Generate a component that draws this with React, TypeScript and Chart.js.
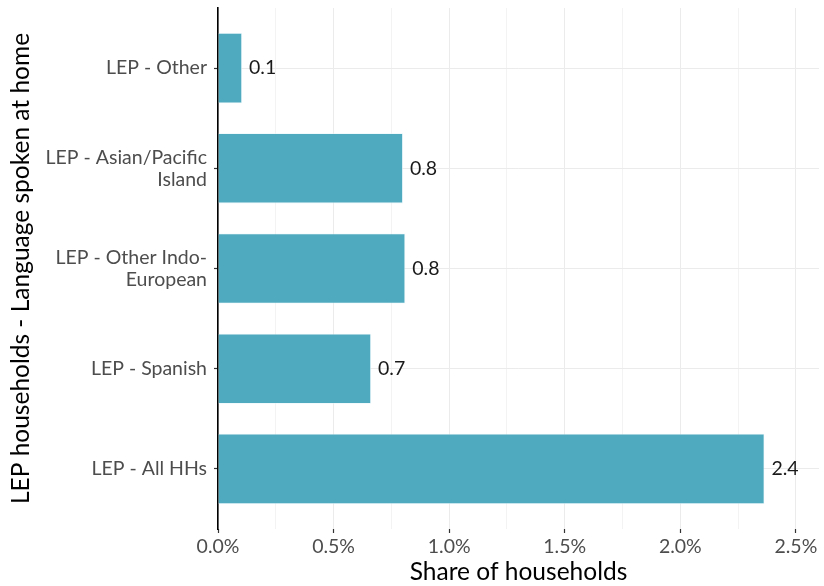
import React, { useEffect, useRef } from "react";
import { Chart, registerables } from "chart.js";

Chart.register(...registerables);

const categories: string[][] = [
  ["LEP - Other"],
  ["LEP - Asian/Pacific", "Island"],
  ["LEP - Other Indo-", "European"],
  ["LEP - Spanish"],
  ["LEP - All HHs"],
];
const shares: number[] = [0.104, 0.8, 0.81, 0.662, 2.364];
const valueLabels: string[] = ["0.1", "0.8", "0.8", "0.7", "2.4"];
const xTicks: number[] = [0, 0.25, 0.5, 0.75, 1, 1.25, 1.5, 1.75, 2, 2.25, 2.5];
const xAxisTitle = "Share of households";
const yAxisTitle = "LEP households - Language spoken at home";

const FONT = "Lato, 'Noto Sans', sans-serif";

const barLabelPlugin = {
  id: "barLabels",
  afterDatasetsDraw(chart: any) {
    const { ctx } = chart;
    const meta = chart.getDatasetMeta(0);
    ctx.save();
    ctx.font = `19.5px ${FONT}`;
    ctx.fillStyle = "#1a1a1a";
    ctx.textAlign = "left";
    ctx.textBaseline = "middle";
    meta.data.forEach((bar: any, i: number) => {
      ctx.fillText(valueLabels[i], bar.x + 7, bar.y);
    });
    ctx.restore();
  },
};

export default function App() {
  const ref = useRef<HTMLCanvasElement>(null);
  useEffect(() => {
    if (!ref.current) return;
    const isMajor = (v: number) => Math.abs(v * 2 - Math.round(v * 2)) < 1e-6;
    const chart = new Chart(ref.current, {
      type: "bar",
      data: {
        datasets: [
          {
            data: shares.map((v, i) => ({ x: v, y: i })),
            backgroundColor: "#4FAABF",
            borderColor: "rgba(230,245,248,0.9)",
            borderWidth: 0.8,
            borderSkipped: "left",
            barPercentage: 0.7,
            categoryPercentage: 1,
          },
        ],
      },
      options: {
        indexAxis: "y",
        animation: false,
        responsive: true,
        maintainAspectRatio: false,
        layout: { padding: { top: 8, right: 5, left: 0, bottom: 0 } },
        plugins: { legend: { display: false }, tooltip: { enabled: false } },
        scales: {
          x: {
            type: "linear",
            min: 0,
            max: 2.6,
            offset: false,
            afterBuildTicks: (scale: any) => {
              scale.ticks = xTicks.map((v) => ({ value: v }));
            },
            afterFit: (scale: any) => {
              scale.height = 57;
              scale.paddingLeft = 0;
              scale.paddingRight = 0;
            },
            border: { display: false },
            grid: {
              offset: false,
              color: (c: any) => (c.tick && isMajor(c.tick.value) ? "#EBEBEB" : "#F3F3F3"),
              lineWidth: 1,
              tickColor: (c: any) => (c.tick && isMajor(c.tick.value) ? "#333333" : "rgba(0,0,0,0)"),
              tickLength: 4,
              tickWidth: 1.2,
            },
            ticks: {
              autoSkip: false,
              maxRotation: 0,
              padding: 3,
              color: "#4D4D4D",
              font: { family: FONT, size: 19.5, lineHeight: 1.1 },
              callback: (v: any) => (isMajor(Number(v)) ? Number(v).toFixed(1) + "%" : ""),
            },
            title: {
              display: true,
              text: xAxisTitle,
              color: "#000000",
              font: { family: FONT, size: 24.5, lineHeight: 1.1 },
              padding: { top: 0, bottom: 0 },
            },
          },
          y: {
            type: "linear",
            min: -0.6,
            max: 4.6,
            reverse: true,
            offset: false,
            afterBuildTicks: (scale: any) => {
              scale.ticks = categories.map((_, i) => ({ value: i }));
            },
            afterFit: (scale: any) => {
              scale.width = 218;
              scale.paddingTop = 0;
              scale.paddingBottom = 0;
            },
            border: { display: true, color: "#000000", width: 1.6 },
            grid: {
              offset: false,
              color: "#EBEBEB",
              lineWidth: 1,
              tickColor: "#333333",
              tickLength: 4,
              tickWidth: 1.2,
            },
            ticks: {
              autoSkip: false,
              padding: 7,
              color: "#4D4D4D",
              font: { family: FONT, size: 19.5, lineHeight: 1.13 },
              callback: (v: any) => categories[Math.round(Number(v))] ?? "",
            },
            title: {
              display: true,
              text: yAxisTitle,
              color: "#000000",
              font: { family: FONT, size: 24.5, lineHeight: 1.1 },
              padding: { top: 8, bottom: 0 },
            },
          },
        },
      },
      plugins: [barLabelPlugin],
    } as any);
    return () => chart.destroy();
  }, []);
  return (
    <div style={{ position: "absolute", left: 0, top: 0, width: 824, height: 586, background: "#ffffff" }}>
      <canvas ref={ref} />
    </div>
  );
}
